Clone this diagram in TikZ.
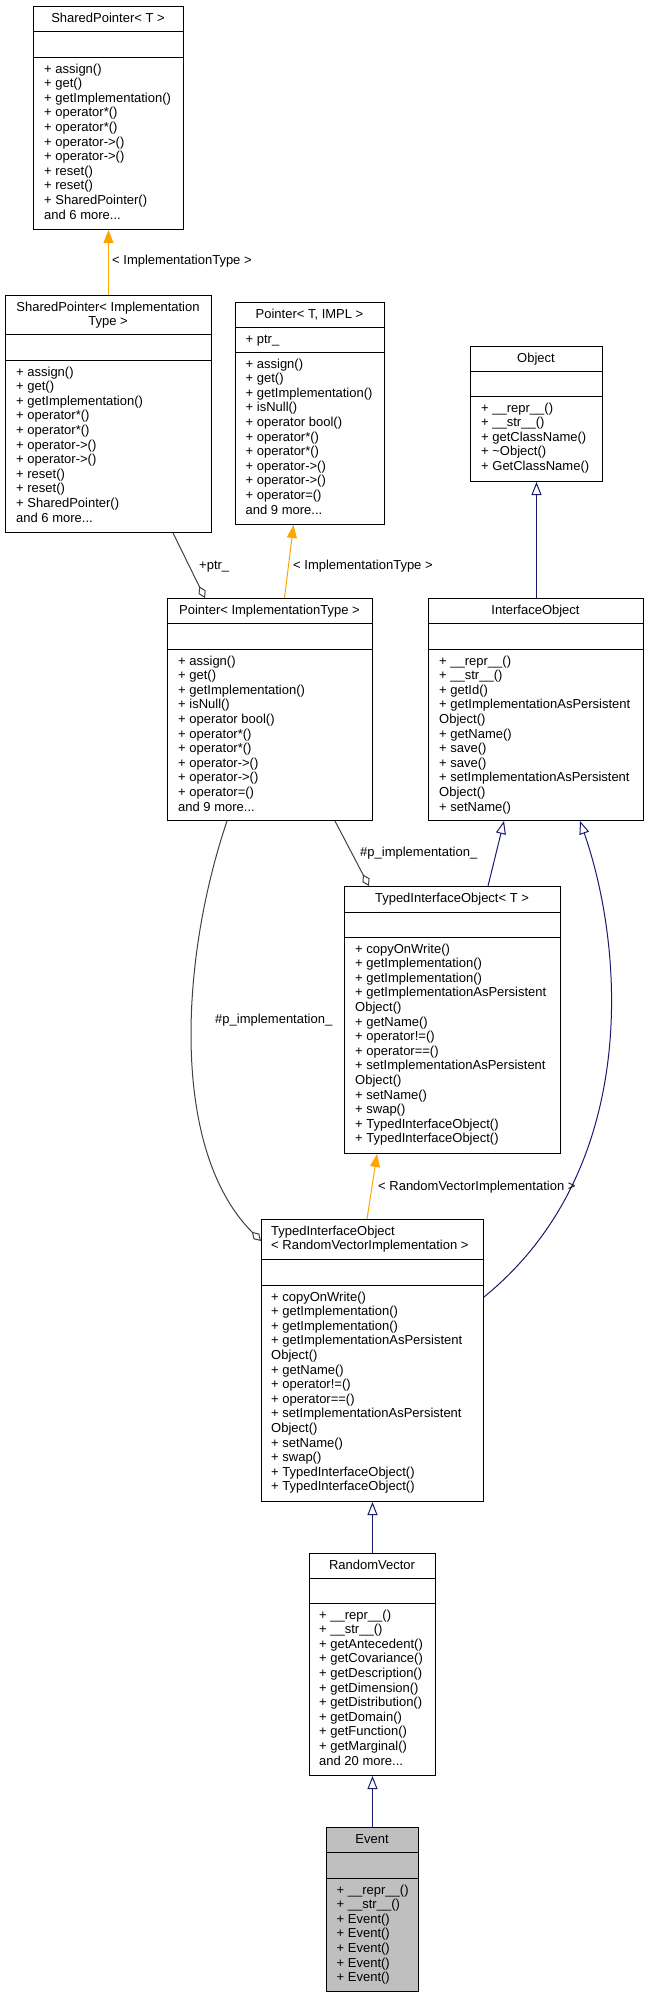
\documentclass[tikz,border=0pt]{standalone}
\usepackage{fontspec}
\setmainfont{Liberation Sans}
\usetikzlibrary{arrows.meta}
\definecolor{navyedge}{HTML}{191970}
\definecolor{grayedge}{HTML}{404040}
\definecolor{orangeedge}{HTML}{FFA500}
\definecolor{eventfill}{HTML}{BFBFBF}
\newcommand\tdots{...}
\newcommand\umlfont{\fontsize{13pt}{14.6pt}\selectfont}
\newcommand\members[4]{\foreach \mtxt [count=\mcnt] in {#4} {\node[mem] (#1-m\mcnt) at ({#2},{#3+(\mcnt-1)*14.6}) {\mtxt};}}
\begin{document}
\begin{tikzpicture}[x=1pt,y=-1pt,
  classbox/.style={draw=black, line width=1pt, inner sep=0pt, anchor=north west},
  sepline/.style={draw=black, line width=1pt},
  mem/.style={anchor=base west, inner sep=0pt, font=\umlfont},
  ttl/.style={anchor=base, inner sep=0pt, font=\umlfont},
  lbl/.style={anchor=base west, inner sep=0pt, font=\umlfont},
  inherit/.style={draw=navyedge, line width=1pt, -{Triangle[open, length=13pt, width=10pt]}},
  templ/.style={draw=orangeedge, line width=1pt, -{Triangle[length=13pt, width=10pt]}},
  usage/.style={draw=grayedge, line width=1pt, -{Diamond[open, length=13pt, width=8pt]}},
]
\useasboundingbox (0,0) rectangle (649,1997);

% SharedPointer< T >
\node[classbox, minimum width=150pt, minimum height=223pt] (spt) at (33,6) {};
\draw[sepline] (33,31) -- (183,31) (33,57) -- (183,57);
\node[ttl] (spt-t) at (108,22) {SharedPointer< T >};
\members{spt}{44}{73}{{+ assign()},{+ get()},{+ getImplementation()},{+ operator*()},{+ operator*()},{+ operator->()},{+ operator->()},{+ reset()},{+ reset()},{+ SharedPointer()},{and 6 more\tdots}}

% SharedPointer< ImplementationType >
\node[classbox, minimum width=206pt, minimum height=237pt] (spit) at (5,295) {};
\draw[sepline] (5,334) -- (211,334) (5,360) -- (211,360);
\node[ttl] (spit-t1) at (108,311) {SharedPointer< Implementation};
\node[ttl] (spit-t2) at (108,325.6) {Type >};
\members{spit}{16}{376}{{+ assign()},{+ get()},{+ getImplementation()},{+ operator*()},{+ operator*()},{+ operator->()},{+ operator->()},{+ reset()},{+ reset()},{+ SharedPointer()},{and 6 more\tdots}}

% Pointer< T, IMPL >
\node[classbox, minimum width=149pt, minimum height=222pt] (ptrti) at (235,302) {};
\draw[sepline] (235,327) -- (384,327) (235,352) -- (384,352);
\node[ttl] (ptrti-t) at (309.5,318) {Pointer< T, IMPL >};
\node[mem] (ptrti-a) at (245.5,343) {+ ptr\_};
\members{ptrti}{245.5}{368}{{+ assign()},{+ get()},{+ getImplementation()},{+ isNull()},{+ operator bool()},{+ operator*()},{+ operator*()},{+ operator->()},{+ operator->()},{+ operator=()},{and 9 more\tdots}}

% Object
\node[classbox, minimum width=132pt, minimum height=135pt] (obj) at (470,346) {};
\draw[sepline] (470,371) -- (602,371) (470,396) -- (602,396);
\node[ttl] (obj-t) at (536,362) {Object};
\members{obj}{481}{412}{{+ \_\_repr\_\_()},{+ \_\_str\_\_()},{+ getClassName()},{+ \textasciitilde Object()},{+ GetClassName()}}

% InterfaceObject
\node[classbox, minimum width=215pt, minimum height=222pt] (iobj) at (428,598) {};
\draw[sepline] (428,623) -- (643,623) (428,649) -- (643,649);
\node[ttl] (iobj-t) at (535.5,614) {InterfaceObject};
\members{iobj}{439}{665}{{+ \_\_repr\_\_()},{+ \_\_str\_\_()},{+ getId()},{+ getImplementationAsPersistent},{Object()},{+ getName()},{+ save()},{+ save()},{+ setImplementationAsPersistent},{Object()},{+ setName()}}

% Pointer< ImplementationType >
\node[classbox, minimum width=205pt, minimum height=222pt] (ptrit) at (167,598) {};
\draw[sepline] (167,623) -- (372,623) (167,649) -- (372,649);
\node[ttl] (ptrit-t) at (269.5,614) {Pointer< ImplementationType >};
\members{ptrit}{178}{665}{{+ assign()},{+ get()},{+ getImplementation()},{+ isNull()},{+ operator bool()},{+ operator*()},{+ operator*()},{+ operator->()},{+ operator->()},{+ operator=()},{and 9 more\tdots}}

% TypedInterfaceObject< T >
\node[classbox, minimum width=216pt, minimum height=267pt] (tiot) at (344,886) {};
\draw[sepline] (344,912) -- (560,912) (344,937) -- (560,937);
\node[ttl] (tiot-t) at (452,902) {TypedInterfaceObject< T >};
\members{tiot}{355}{953}{{+ copyOnWrite()},{+ getImplementation()},{+ getImplementation()},{+ getImplementationAsPersistent},{Object()},{+ getName()},{+ operator!=()},{+ operator==()},{+ setImplementationAsPersistent},{Object()},{+ setName()},{+ swap()},{+ TypedInterfaceObject()},{+ TypedInterfaceObject()}}

% TypedInterfaceObject< RandomVectorImplementation >
\node[classbox, minimum width=222pt, minimum height=282pt] (tiorvi) at (261,1219) {};
\draw[sepline] (261,1259) -- (483,1259) (261,1285) -- (483,1285);
\node[mem] (tiorvi-t1) at (271,1235) {TypedInterfaceObject};
\node[mem] (tiorvi-t2) at (271,1249.6) {< RandomVectorImplementation >};
\members{tiorvi}{271}{1301}{{+ copyOnWrite()},{+ getImplementation()},{+ getImplementation()},{+ getImplementationAsPersistent},{Object()},{+ getName()},{+ operator!=()},{+ operator==()},{+ setImplementationAsPersistent},{Object()},{+ setName()},{+ swap()},{+ TypedInterfaceObject()},{+ TypedInterfaceObject()}}

% RandomVector
\node[classbox, minimum width=126pt, minimum height=222pt] (rv) at (309,1553) {};
\draw[sepline] (309,1578) -- (435,1578) (309,1603) -- (435,1603);
\node[ttl] (rv-t) at (372,1569) {RandomVector};
\members{rv}{319}{1619}{{+ \_\_repr\_\_()},{+ \_\_str\_\_()},{+ getAntecedent()},{+ getCovariance()},{+ getDescription()},{+ getDimension()},{+ getDistribution()},{+ getDomain()},{+ getFunction()},{+ getMarginal()},{and 20 more\tdots}}

% Event
\node[classbox, fill=eventfill, minimum width=92pt, minimum height=164pt] (event) at (326,1827) {};
\draw[sepline] (326,1852) -- (418,1852) (326,1878) -- (418,1878);
\node[ttl] (event-t) at (372,1843) {Event};
\members{event}{336.5}{1894}{{+ \_\_repr\_\_()},{+ \_\_str\_\_()},{+ Event()},{+ Event()},{+ Event()},{+ Event()},{+ Event()}}

% connectors
\draw[templ] (spit.north) -- (spt.south);
\node[lbl] (l1) at (112,264) {< ImplementationType >};

\draw[templ] ([xshift=14.5pt]ptrit.north) -- ([xshift=-16.5pt]ptrti.south);
\node[lbl] (l2) at (293,569) {< ImplementationType >};

\draw[usage] ([xshift=168pt]spit.south west) -- ([xshift=38pt]ptrit.north west);
\node[lbl] (l3) at (199,569) {+ptr\_};

\draw[inherit] (iobj.north -| obj.south) -- (obj.south);

\draw[inherit] ([xshift=144pt]tiot.north west) -- ([xshift=76pt]iobj.south west);

\draw[inherit] ([yshift=-78pt]tiorvi.north east) .. controls (640,1170) and (625,950) .. ([xshift=152pt]iobj.south west);

\draw[usage] ([xshift=168pt]ptrit.south west) -- ([xshift=25pt]tiot.north west);
\node[lbl] (l4) at (360,856) {\#p\_implementation\_};

\draw[usage] ([xshift=60pt]ptrit.south west) .. controls (180,960) and (170,1150) .. ([yshift=-22pt]tiorvi.north west);
\node[lbl] (l5) at (215,1023) {\#p\_implementation\_};

\draw[templ] ([xshift=106pt]tiorvi.north west) -- ([xshift=33pt]tiot.south west);
\node[lbl] (l6) at (378,1190) {< RandomVectorImplementation >};

\draw[inherit] (rv.north) -- (rv.north |- tiorvi.south);
\draw[inherit] (event.north) -- (rv.south);
\end{tikzpicture}
\end{document}
